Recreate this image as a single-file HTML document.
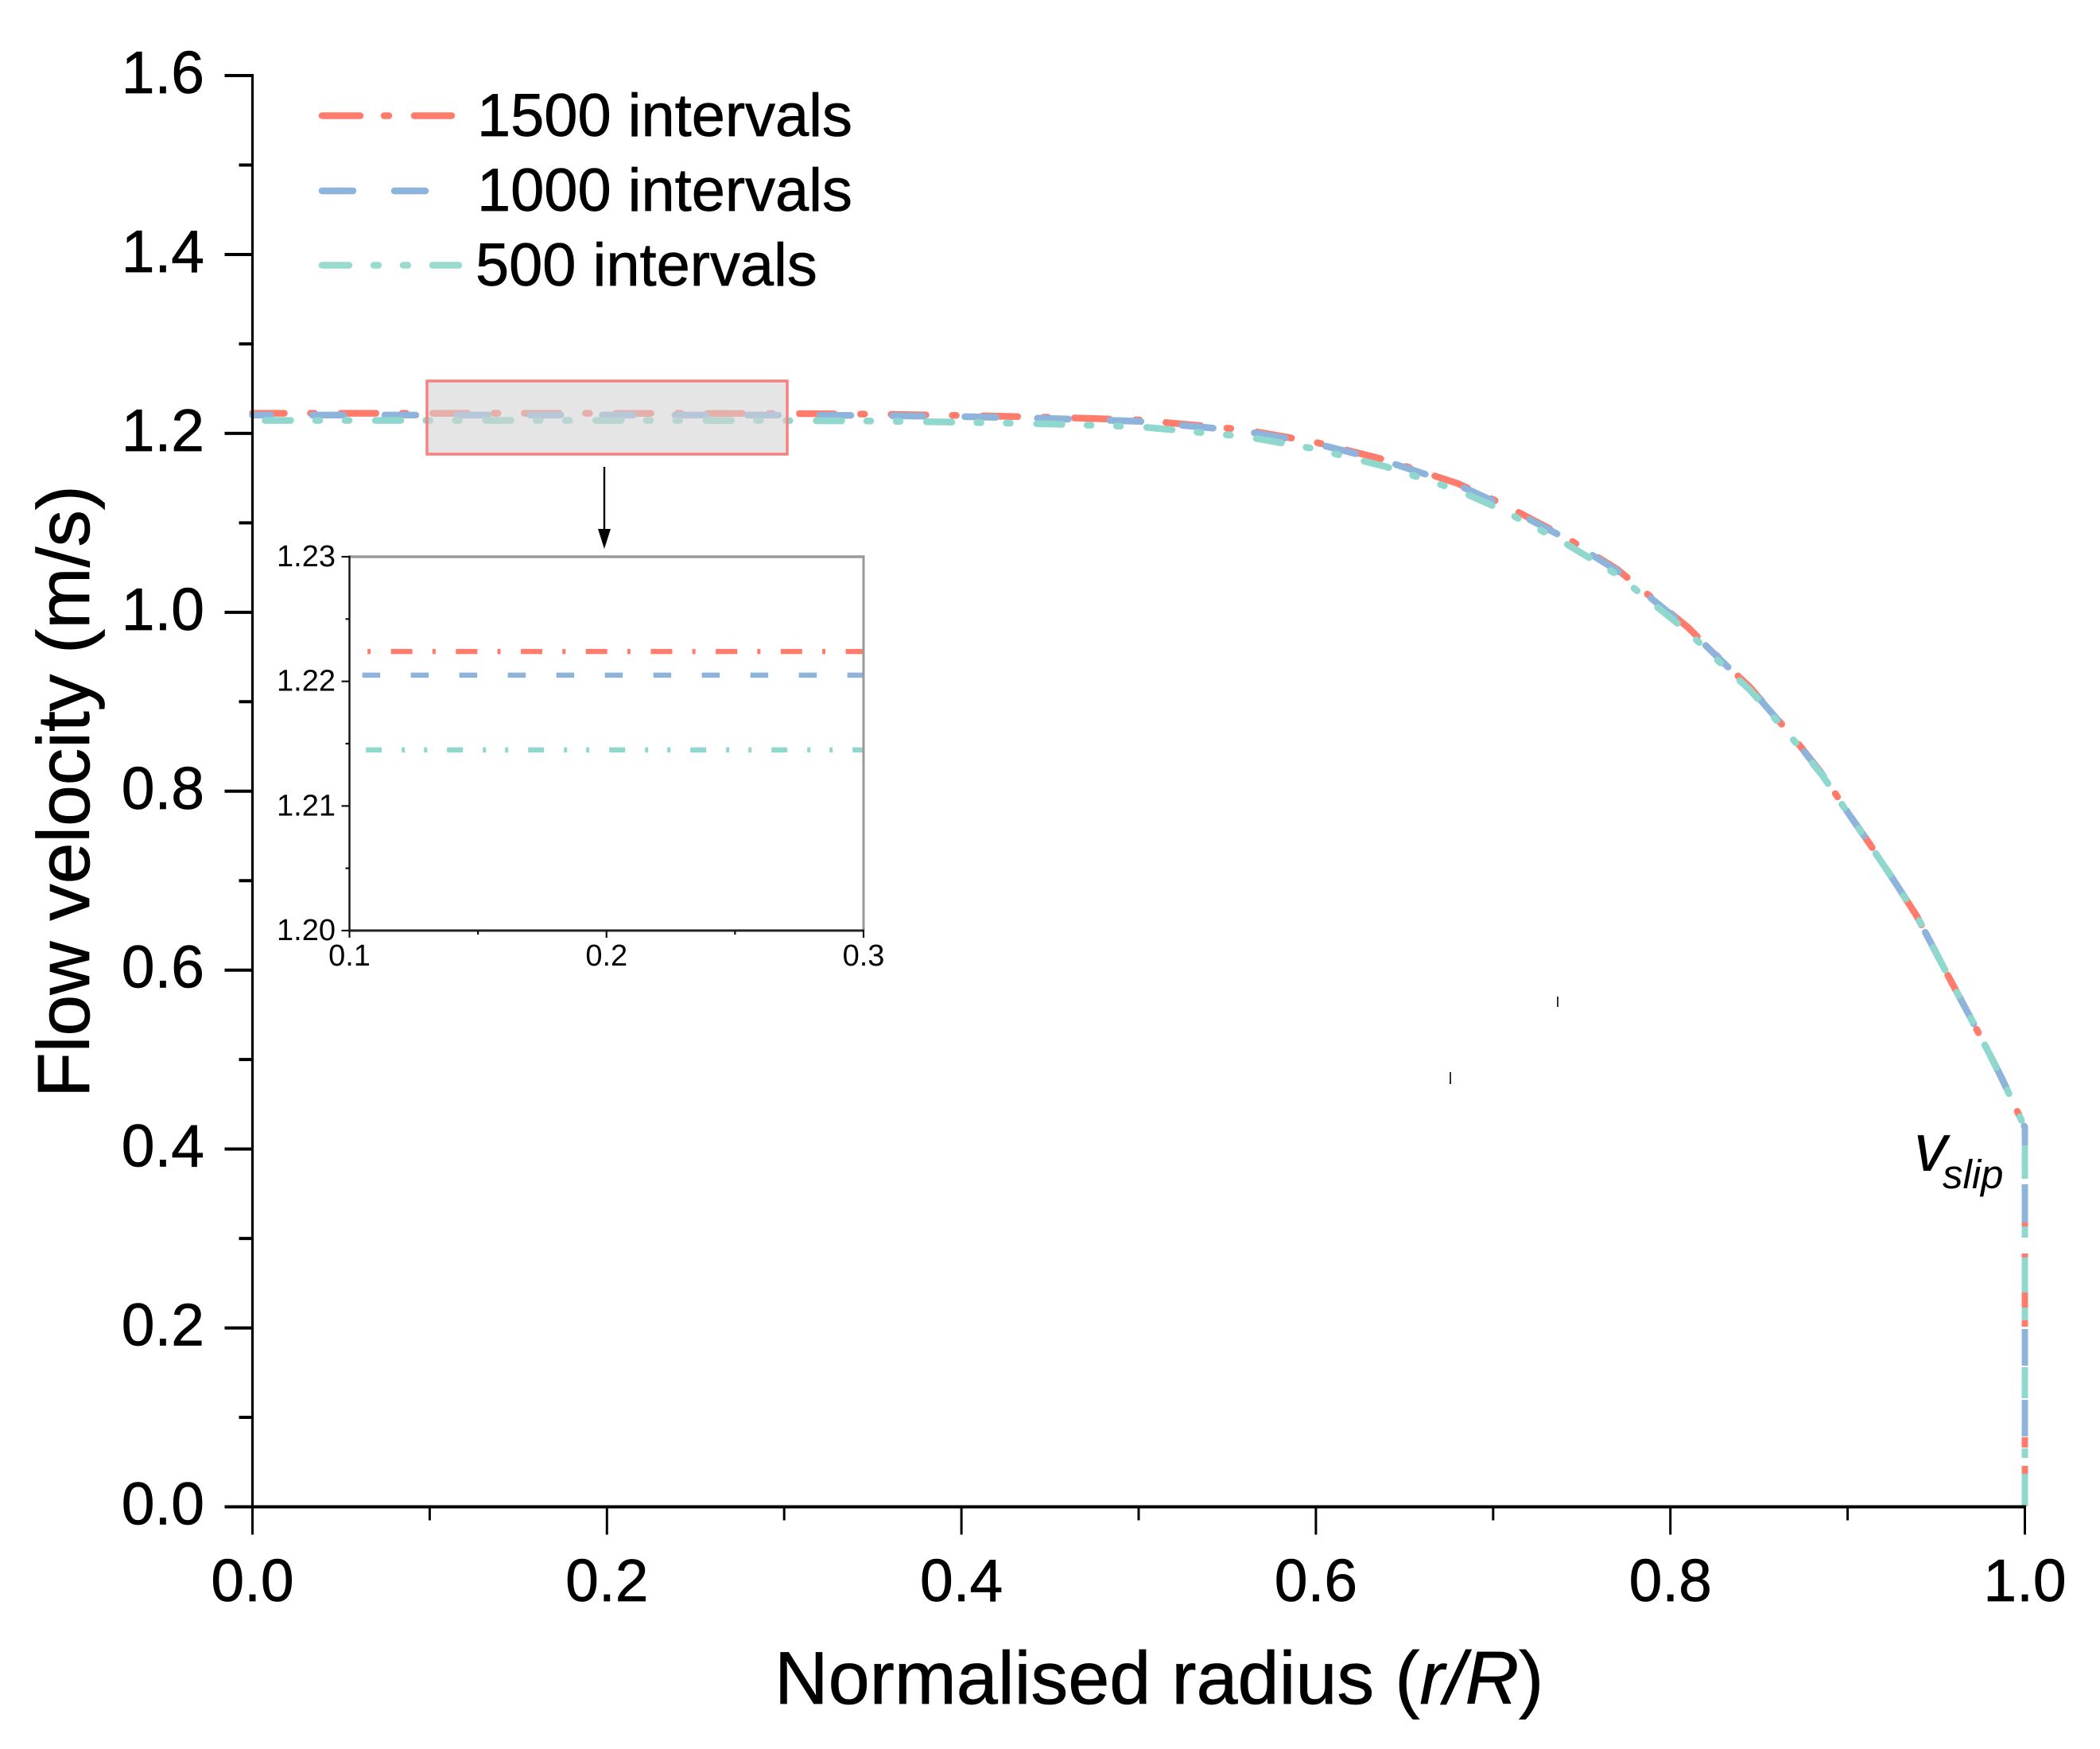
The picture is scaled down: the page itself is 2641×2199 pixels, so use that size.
<!DOCTYPE html>
<html>
<head>
<meta charset="utf-8">
<title>Flow velocity vs normalised radius</title>
<style>
html,body{margin:0;padding:0;background:#fff;}
svg{display:block;font-family:"Liberation Sans",Arial,sans-serif;}
</style>
</head>
<body>
<svg id="chart" xmlns="http://www.w3.org/2000/svg" width="2641" height="2199" viewBox="0 0 2641 2199">
  <rect x="0" y="0" width="2641" height="2199" fill="#fff"/>
  <g id="main-series"></g>
  <rect x="537" y="479" width="453" height="92" fill="rgb(212,212,212)" fill-opacity="0.6" stroke="#f98080" stroke-width="3.5"/>
  <g id="axes"></g>
  <text transform="translate(112,1380) rotate(-90)" font-size="93" fill="#000" stroke="#000" stroke-width="0.7">Flow velocity (m/s)</text>
  <text x="974" y="2142" font-size="93.6" fill="#000" stroke="#000" stroke-width="0.7">Normalised radius (<tspan font-style="italic">r/R</tspan>)</text>

  <g>
    <line x1="405" y1="145.5" x2="568" y2="145.5" stroke="#ff7c6c" stroke-width="8.5" stroke-linecap="round" stroke-dasharray="48 30 6 32 47"/>
    <text x="600" y="171" font-size="75.8" fill="#000" stroke="#000" stroke-width="0.7">1500 intervals</text>
    <line x1="405" y1="240" x2="535" y2="240" stroke="#8fb4dc" stroke-width="8.5" stroke-linecap="round" stroke-dasharray="39 52 39"/>
    <text x="600" y="265" font-size="75.8" fill="#000" stroke="#000" stroke-width="0.7">1000 intervals</text>
    <line x1="405" y1="333.5" x2="577" y2="333.5" stroke="#9adbd0" stroke-width="8.5" stroke-linecap="round" stroke-dasharray="34 31 6 31 6 31 33"/>
    <text x="598" y="359" font-size="75.8" fill="#000" stroke="#000" stroke-width="0.7">500 intervals</text>
  </g>

  <text x="2407" y="1472" font-size="84" font-style="italic" fill="#000">v</text>
  <text x="2443" y="1494" font-size="51" font-style="italic" fill="#000">slip</text>

  <line x1="760" y1="587" x2="760" y2="668" stroke="#000" stroke-width="2.4"/>
  <polygon points="752,665 768,665 760,690" fill="#000"/>

  <line x1="1959" y1="1253" x2="1959" y2="1266" stroke="#333" stroke-width="2"/>
  <line x1="1824" y1="1348" x2="1824" y2="1363" stroke="#333" stroke-width="2"/>

  <g id="inset"></g>
</svg>

<script>
// ---- main chart data ----
const radius = [0, 0.1, 0.2, 0.3, 0.35, 0.4, 0.45, 0.5, 0.56, 0.6, 0.64, 0.68, 0.705, 0.74, 0.77, 0.81, 0.83, 0.845, 0.86, 0.873, 0.886, 0.9, 0.913, 0.927, 0.939, 0.957, 0.969, 0.98, 0.987, 1, 1];
const velocity1500 = [1.2224, 1.2224, 1.2224, 1.2222, 1.2215, 1.22, 1.218, 1.215, 1.204, 1.19, 1.17, 1.144, 1.1215, 1.085, 1.048, 0.983, 0.944, 0.916, 0.8815, 0.851, 0.8185, 0.7765, 0.7395, 0.6975, 0.6605, 0.5925, 0.548, 0.5065, 0.479, 0.424, 0];
const velocity1000 = [1.2205, 1.2205, 1.2205, 1.2204, 1.22, 1.2187, 1.2167, 1.2135, 1.2025, 1.1885, 1.1685, 1.1425, 1.12, 1.0835, 1.0465, 0.982, 0.9435, 0.9155, 0.881, 0.8505, 0.818, 0.7765, 0.7395, 0.6975, 0.6605, 0.5925, 0.548, 0.5065, 0.479, 0.424, 0];
const velocity500 = [1.2145, 1.2145, 1.2145, 1.2143, 1.2138, 1.2125, 1.2105, 1.2075, 1.1965, 1.1825, 1.1625, 1.1365, 1.1145, 1.078, 1.042, 0.978, 0.94, 0.913, 0.879, 0.849, 0.817, 0.776, 0.739, 0.6975, 0.6605, 0.5925, 0.548, 0.5065, 0.479, 0.424, 0];
const xMajorTicks = ["0.0", "0.2", "0.4", "0.6", "0.8", "1.0"];
const xMinorTicks = [0.1, 0.3, 0.5, 0.7, 0.9];
const yMajorTicks = ["0.0", "0.2", "0.4", "0.6", "0.8", "1.0", "1.2", "1.4", "1.6"];
const yMinorTicks = [0.1, 0.3, 0.5, 0.7, 0.9, 1.1, 1.3, 1.5];

// ---- inset data ----
const insetRadius1500 = [0.107, 0.3];
const insetVelocity1500 = [1.2224, 1.2224];
const insetRadius1000 = [0.105, 0.3];
const insetVelocity1000 = [1.2205, 1.2205];
const insetRadius500 = [0.1064, 0.3];
const insetVelocity500 = [1.2145, 1.2145];
const insetXTicks = ["0.1", "0.2", "0.3"];
const insetXMinor = [0.15, 0.25];
const insetYTicks = ["1.20", "1.21", "1.22", "1.23"];
const insetYMinor = [1.205, 1.215, 1.225];

// ---- axis functions ----
const NS = "http://www.w3.org/2000/svg";
function xScale(r){ return 317.5 + (r - 0) * (2546.5 - 317.5); }
function yScale(v){ return 1894.5 - v * (1894.5 - 95) / 1.6; }
function insetX(r){ return 439.5 + (r - 0.1) * (1086 - 439.5) / 0.2; }
function insetY(v){ return 1170 - (v - 1.2) * (1170 - 700) / 0.03; }

function mk(tag, attrs, parent){
  const el = document.createElementNS(NS, tag);
  for (const k in attrs) el.setAttribute(k, attrs[k]);
  parent.appendChild(el);
  return el;
}
function pathFrom(xs, ys, fx, fy){
  return xs.map((x, i) => (i ? "L" : "M") + fx(x).toFixed(2) + " " + fy(ys[i]).toFixed(2)).join(" ");
}

const mainG = document.getElementById("main-series");
const axesG = document.getElementById("axes");
const insetG = document.getElementById("inset");

// curved part runs up to the wall; the wall (last two points) has its own dash rhythm
const curveEnd = radius.length - 1;
const wallStart = radius.length - 2;

const s1500 = mk("path", {d: pathFrom(radius.slice(0, curveEnd), velocity1500.slice(0, curveEnd), xScale, yScale), fill: "none", stroke: "#ff7c6c", "stroke-width": 8.5, "stroke-linecap": "round", "stroke-linejoin": "round", "stroke-dasharray": "44 33 5 33.3", "stroke-dashoffset": 4}, mainG);


const s1000 = mk("path", {d: pathFrom(radius.slice(0, curveEnd), velocity1000.slice(0, curveEnd), xScale, yScale), fill: "none", stroke: "#8fb4dc", "stroke-width": 8.5, "stroke-linecap": "round", "stroke-linejoin": "round", "stroke-dasharray": "39 52.2", "stroke-dashoffset": 16}, mainG);


const s500 = mk("path", {d: pathFrom(radius.slice(0, curveEnd), velocity500.slice(0, curveEnd), xScale, yScale), fill: "none", stroke: "#90d8cd", "stroke-width": 8.5, "stroke-linecap": "round", "stroke-linejoin": "round", "stroke-dasharray": "32 31.5 5 32 5 33.1", "stroke-dashoffset": 122.6}, mainG);



const w1500 = mk("path", {d: pathFrom(radius.slice(wallStart), velocity1500.slice(wallStart), xScale, yScale), fill: "none", stroke: "#ff7c6c", "stroke-width": 8, "stroke-dasharray": "0 112.4 12 34 5 44 19 16 8 139 13 23 10 100"}, mainG);


const w1000 = mk("path", {d: pathFrom(radius.slice(wallStart), velocity1000.slice(wallStart), xScale, yScale), fill: "none", stroke: "#8fb4dc", "stroke-width": 8, "stroke-dasharray": "22.4 49 48 134 46 43 46 200"}, mainG);


const w500 = mk("path", {d: pathFrom(radius.slice(wallStart), velocity500.slice(wallStart), xScale, yScale), fill: "none", stroke: "#90d8cd", "stroke-width": 8, "stroke-dasharray": "0 22.4 42 60 14 25 44 19 16 59 39 63 12 20 41 10"}, mainG);



// ---- main axes ----
const yAxisLine = mk("line", {x1: xScale(0), y1: yScale(1.6) - 2, x2: xScale(0), y2: yScale(0) + 2, stroke: "#000", "stroke-width": 3.2}, axesG);


const xAxisLine = mk("line", {x1: xScale(0), y1: yScale(0), x2: xScale(1) + 1.5, y2: yScale(0), stroke: "#000", "stroke-width": 4}, axesG);



yMajorTicks.forEach(function(t){
  const v = parseFloat(t);
  const tick = mk("line", {x1: xScale(0) - 35, y1: yScale(v), x2: xScale(0), y2: yScale(v), stroke: "#000", "stroke-width": 4}, axesG);
  
  
  const lab = mk("text", {x: 257, y: yScale(v) + 22, "text-anchor": "end", "font-size": 75, fill: "#000", stroke: "#000", "stroke-width": 0.7}, axesG);
  
  
  lab.textContent = t;
});
yMinorTicks.forEach(function(v){
  const tick = mk("line", {x1: xScale(0) - 17, y1: yScale(v), x2: xScale(0), y2: yScale(v), stroke: "#000", "stroke-width": 4}, axesG);
  
  
});
xMajorTicks.forEach(function(t){
  const v = parseFloat(t);
  const tick = mk("line", {x1: xScale(v), y1: yScale(0), x2: xScale(v), y2: yScale(0) + 35, stroke: "#000", "stroke-width": 3}, axesG);
  
  
  const lab = mk("text", {x: xScale(v), y: 2013, "text-anchor": "middle", "font-size": 75, fill: "#000", stroke: "#000", "stroke-width": 0.7}, axesG);
  
  
  lab.textContent = t;
});
xMinorTicks.forEach(function(v){
  const tick = mk("line", {x1: xScale(v), y1: yScale(0), x2: xScale(v), y2: yScale(0) + 17, stroke: "#000", "stroke-width": 3}, axesG);
  
  
});

// ---- inset ----
const insetBg = mk("rect", {x: insetX(0.1), y: insetY(1.23), width: insetX(0.3) - insetX(0.1), height: insetY(1.2) - insetY(1.23), fill: "#fff"}, insetG);


const i1500 = mk("path", {d: pathFrom(insetRadius1500, insetVelocity1500, insetX, insetY), fill: "none", stroke: "#ff7c6c", "stroke-width": 6.5, "stroke-dasharray": "4 25.5 27 25.2"}, insetG);


const i1000 = mk("path", {d: pathFrom(insetRadius1000, insetVelocity1000, insetX, insetY), fill: "none", stroke: "#8fb4dc", "stroke-width": 6.5, "stroke-dasharray": "22.5 38.5"}, insetG);


const i500 = mk("path", {d: pathFrom(insetRadius500, insetVelocity500, insetX, insetY), fill: "none", stroke: "#90d8cd", "stroke-width": 6.5, "stroke-dasharray": "20 25 4 24 4 25"}, insetG);



const insetTop = mk("line", {x1: insetX(0.1), y1: insetY(1.23), x2: insetX(0.3) + 1.5, y2: insetY(1.23), stroke: "#9a9a9a", "stroke-width": 3.4}, insetG);


const insetRight = mk("line", {x1: insetX(0.3), y1: insetY(1.23), x2: insetX(0.3), y2: insetY(1.2), stroke: "#9a9a9a", "stroke-width": 3}, insetG);


const insetLeft = mk("line", {x1: insetX(0.1), y1: insetY(1.23) - 1.5, x2: insetX(0.1), y2: insetY(1.2) + 1, stroke: "#111", "stroke-width": 2.4}, insetG);


const insetBottom = mk("line", {x1: insetX(0.1), y1: insetY(1.2), x2: insetX(0.3) + 1, y2: insetY(1.2), stroke: "#222", "stroke-width": 3}, insetG);



insetYTicks.forEach(function(t){
  const v = parseFloat(t);
  const tick = mk("line", {x1: insetX(0.1) - 10, y1: insetY(v), x2: insetX(0.1), y2: insetY(v), stroke: "#111", "stroke-width": 2.2}, insetG);
  
  
  const lab = mk("text", {x: 422, y: insetY(v) + 12, "text-anchor": "end", "font-size": 38, fill: "#000"}, insetG);
  
  
  lab.textContent = t;
});
insetYMinor.forEach(function(v){
  const tick = mk("line", {x1: insetX(0.1) - 5, y1: insetY(v), x2: insetX(0.1), y2: insetY(v), stroke: "#111", "stroke-width": 2.2}, insetG);
  
  
});
insetXTicks.forEach(function(t){
  const v = parseFloat(t);
  const tick = mk("line", {x1: insetX(v), y1: insetY(1.2), x2: insetX(v), y2: insetY(1.2) + 9, stroke: "#111", "stroke-width": 2.2}, insetG);
  
  
  const lab = mk("text", {x: insetX(v), y: 1214, "text-anchor": "middle", "font-size": 38, fill: "#000"}, insetG);
  
  
  lab.textContent = t;
});
insetXMinor.forEach(function(v){
  const tick = mk("line", {x1: insetX(v), y1: insetY(1.2), x2: insetX(v), y2: insetY(1.2) + 5, stroke: "#111", "stroke-width": 2.2}, insetG);
  
  
});
</script>
</body>
</html>
